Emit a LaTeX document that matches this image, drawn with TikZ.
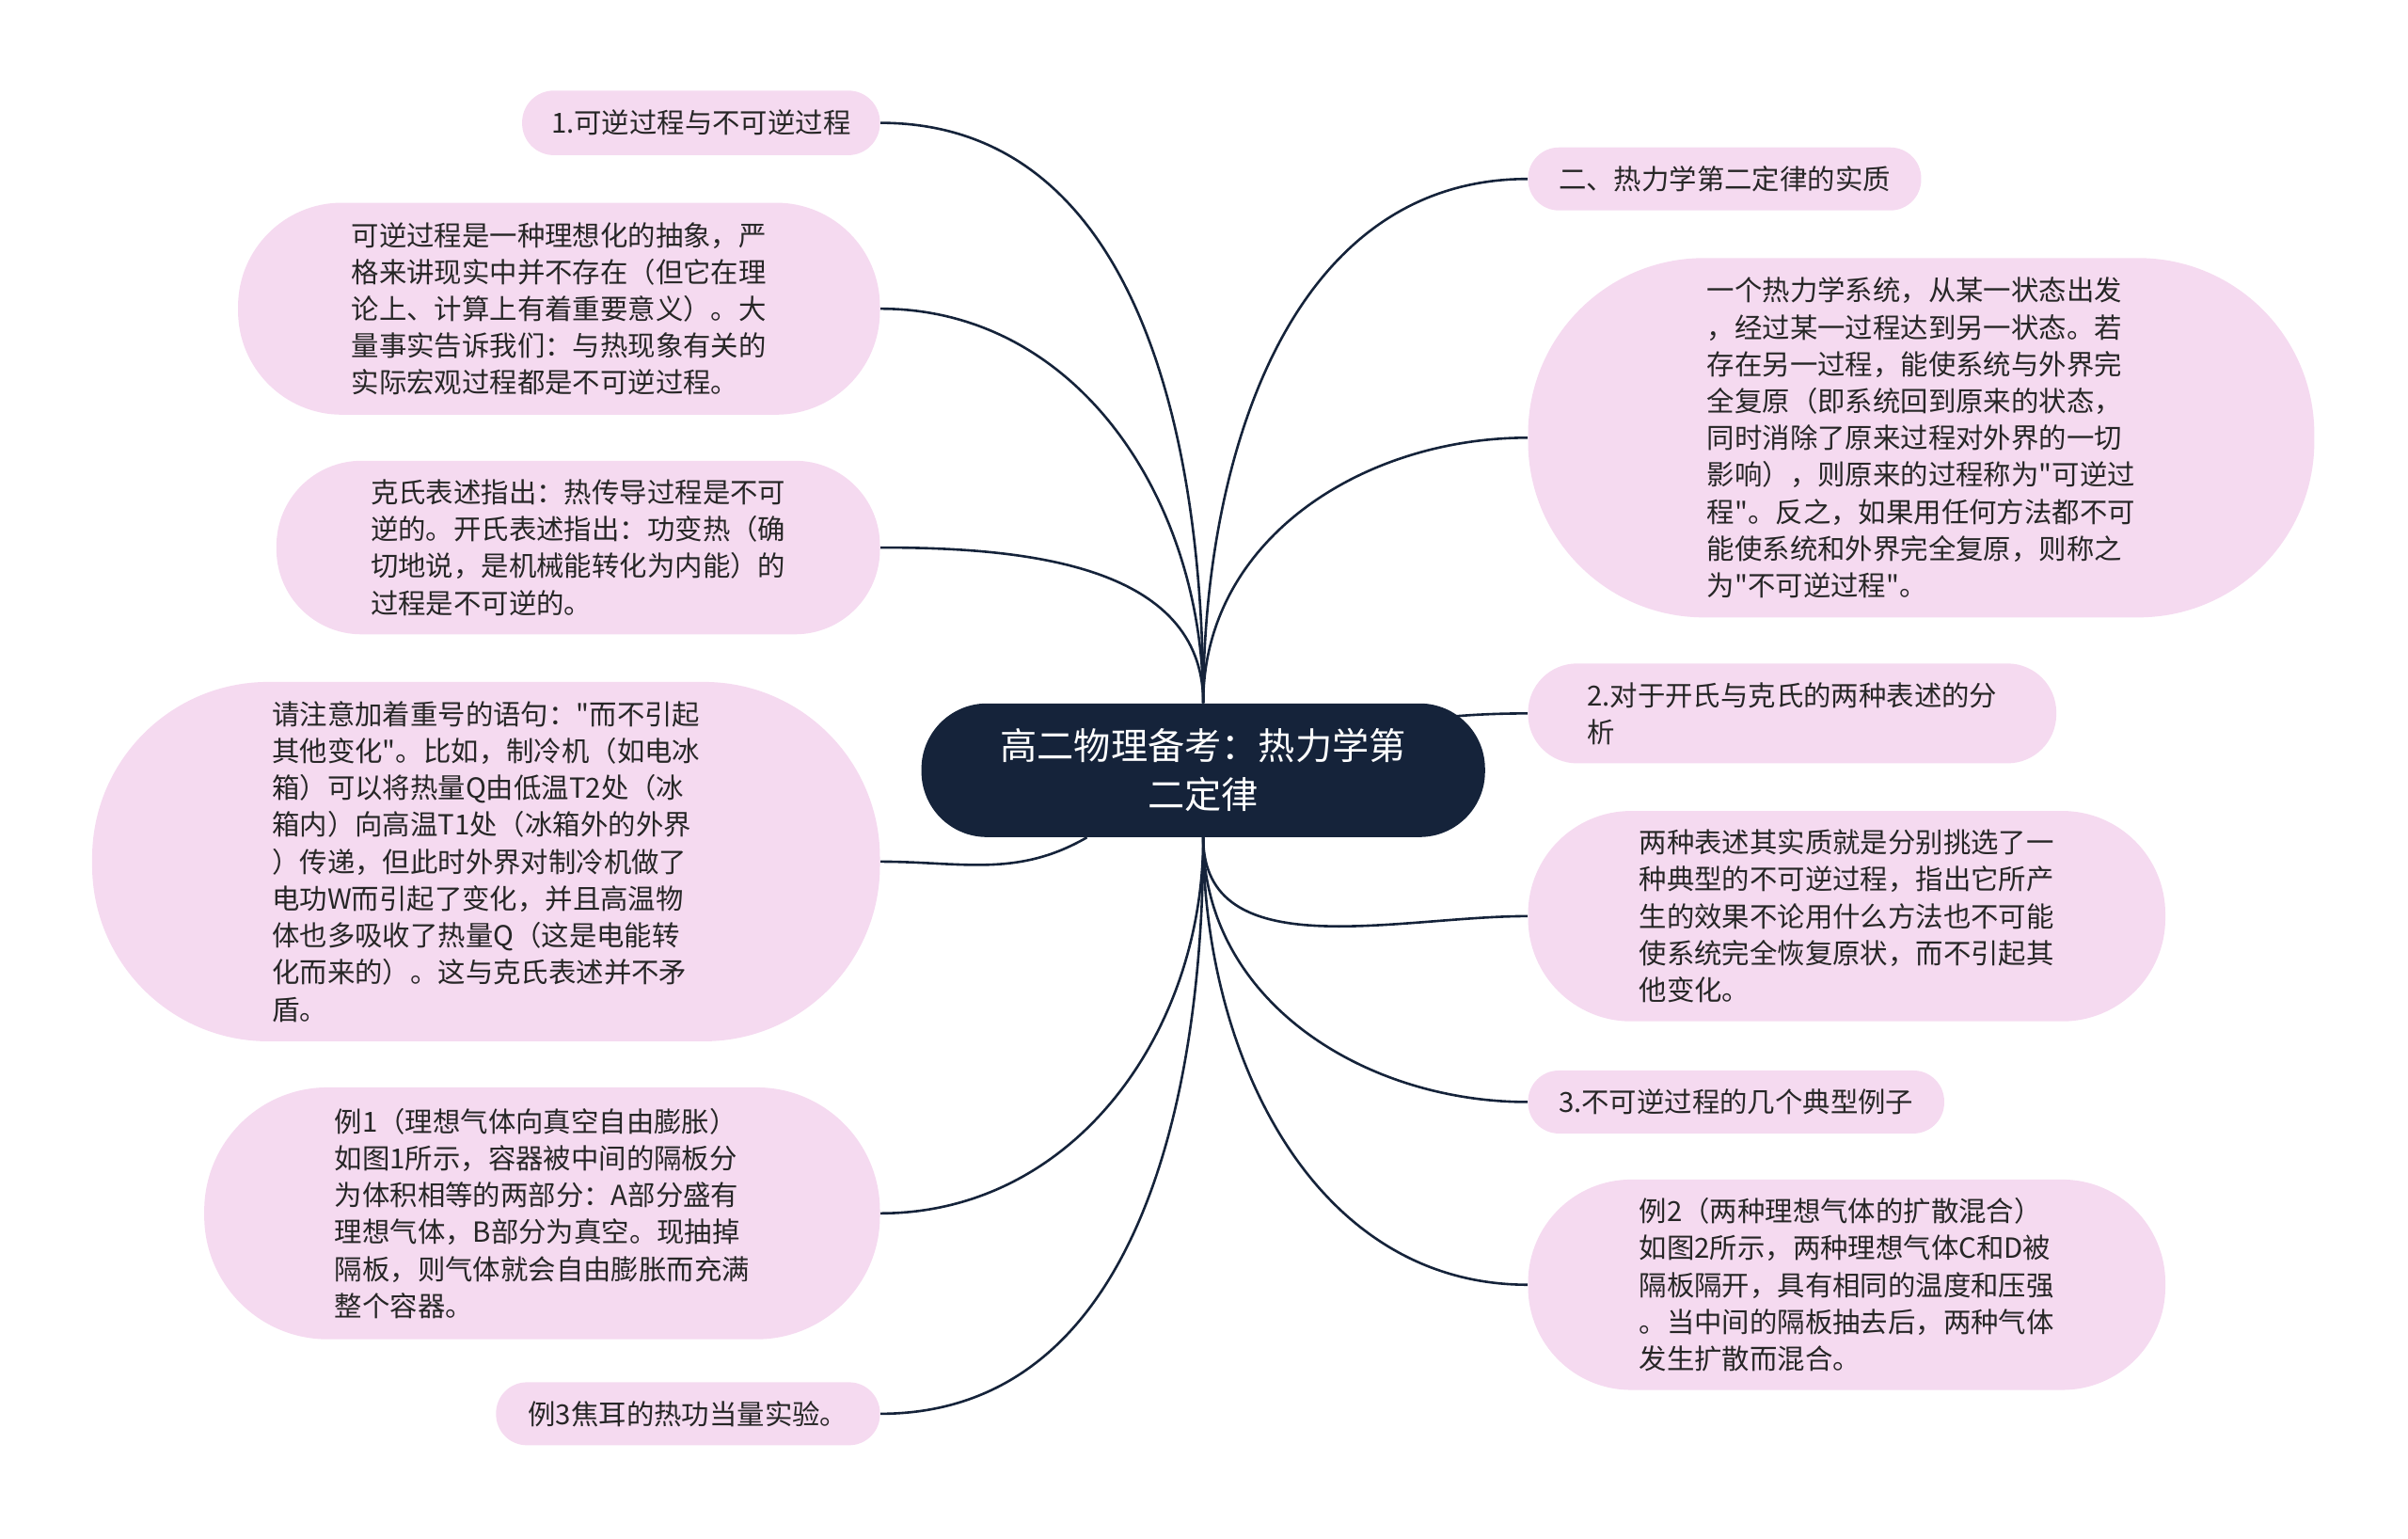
\documentclass[tikz,border=0pt]{standalone}
\usepackage{fontspec}
\newfontfamily\cjk{Noto Sans CJK SC}
\usetikzlibrary{backgrounds}
\definecolor{leafpink}{HTML}{F5DAF0}
\definecolor{rootnavy}{HTML}{15233A}
\definecolor{inktext}{HTML}{262626}
\newcommand{\dpx}{0.8163pt}

\begin{document}
\begin{tikzpicture}[x=\dpx, y=-\dpx,
  leaf/.style={fill=leafpink, text=inktext, align=left, inner sep=0pt, font=\cjk\fontsize{14.7pt}{19.6pt}\selectfont},
  boxsize/.style 2 args={minimum width=#1*\dpx, minimum height=#2*\dpx, rounded corners=0.49*#2*\dpx},
  link/.style={draw=rootnavy, line width=1.3pt}]
\useasboundingbox (0,0) rectangle (1568,1002);
\node[fill=rootnavy, text=white, align=center, inner sep=0pt, font=\cjk\fontsize{19.6pt}{26pt}\selectfont, boxsize={367}{87}] (c) at (783.5,501.5) {高二物理备考：热力学第\\二定律};
\node[leaf, boxsize={233}{42}] (l1) at (456.5,80) {1.可逆过程与不可逆过程};
\node[leaf, boxsize={418}{138}] (l2) at (364,201) {可逆过程是一种理想化的抽象，严\\格来讲现实中并不存在（但它在理\\论上、计算上有着重要意义）。大\\量事实告诉我们：与热现象有关的\\实际宏观过程都是不可逆过程。};
\node[leaf, boxsize={393}{113}] (l3) at (376.5,356.5) {克氏表述指出：热传导过程是不可\\逆的。开氏表述指出：功变热（确\\切地说，是机械能转化为内能）的\\过程是不可逆的。};
\node[leaf, boxsize={513}{234}] (l4) at (316.5,561) {请注意加着重号的语句："而不引起\\其他变化"。比如，制冷机（如电冰\\箱）可以将热量Q由低温T2处（冰\\箱内）向高温T1处（冰箱外的外界\\）传递，但此时外界对制冷机做了\\电功W而引起了变化，并且高温物\\体也多吸收了热量Q（这是电能转\\化而来的）。这与克氏表述并不矛\\盾。};
\node[leaf, boxsize={440}{164}] (l5) at (353,790) {例1（理想气体向真空自由膨胀）\\如图1所示，容器被中间的隔板分\\为体积相等的两部分：A部分盛有\\理想气体，B部分为真空。现抽掉\\隔板，则气体就会自由膨胀而充满\\整个容器。};
\node[leaf, boxsize={250}{41}] (l6) at (448,920.5) {例3焦耳的热功当量实验。};
\node[leaf, boxsize={256}{41}] (r1) at (1123,116.5) {二、热力学第二定律的实质};
\node[leaf, boxsize={512}{234}] (r2) at (1251,285) {一个热力学系统，从某一状态出发\\，经过某一过程达到另一状态。若\\存在另一过程，能使系统与外界完\\全复原（即系统回到原来的状态，\\同时消除了原来过程对外界的一切\\影响），则原来的过程称为"可逆过\\程"。反之，如果用任何方法都不可\\能使系统和外界完全复原，则称之\\为"不可逆过程"。};
\node[leaf, boxsize={344}{65}] (r3) at (1167,464.5) {2.对于开氏与克氏的两种表述的分\\析};
\node[leaf, boxsize={415}{137}] (r4) at (1202.5,596.5) {两种表述其实质就是分别挑选了一\\种典型的不可逆过程，指出它所产\\生的效果不论用什么方法也不可能\\使系统完全恢复原状，而不引起其\\他变化。};
\node[leaf, boxsize={271}{41}] (r5) at (1130.5,717.5) {3.不可逆过程的几个典型例子};
\node[leaf, boxsize={415}{137}] (r6) at (1202.5,836.5) {例2（两种理想气体的扩散混合）\\如图2所示，两种理想气体C和D被\\隔板隔开，具有相同的温度和压强\\。当中间的隔板抽去后，两种气体\\发生扩散而混合。};
\begin{scope}[on background layer]
\path[link] (c) edge[out=90, in=0] (l1);
\path[link] (c) edge[out=90, in=0] (l2);
\path[link] (c) edge[out=90, in=0] (l3);
\path[link] (c) edge[out=-150, in=0] (l4);
\path[link] (c) edge[out=-90, in=0] (l5);
\path[link] (c) edge[out=-90, in=0] (l6);
\path[link] (c) edge[out=90, in=180] (r1);
\path[link] (c) edge[out=90, in=180] (r2);
\path[link] (c.center) edge[out=15, in=180] (r3);
\path[link] (c) edge[out=-90, in=180] (r4);
\path[link] (c) edge[out=-90, in=180] (r5);
\path[link] (c) edge[out=-90, in=180] (r6);
\end{scope}
\end{tikzpicture}
\end{document}
